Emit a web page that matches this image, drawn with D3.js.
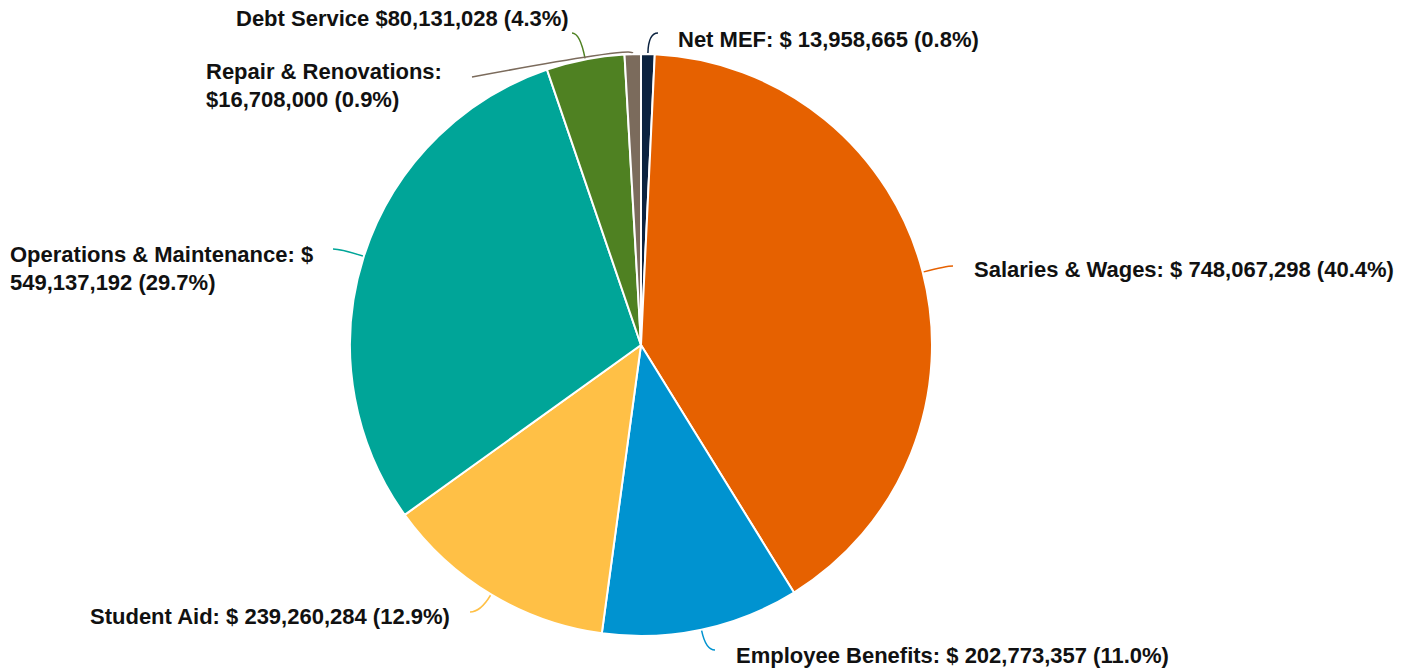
<!DOCTYPE html>
<html>
<head>
<meta charset="utf-8">
<script src="https://cdn.jsdelivr.net/npm/d3@7"></script>
<style>
  html, body { margin: 0; padding: 0; background: #fff; }
  svg { display: block; }
  text { font-family: "Liberation Sans", Arial, sans-serif; font-weight: bold; font-size: 22px; fill: #111; }
</style>
</head>
<body>
<svg id="chart" width="1411" height="669"></svg>
<script>
// Expense categories, clockwise from 12 o'clock
const categories = [
  "Net MEF",
  "Salaries & Wages",
  "Employee Benefits",
  "Student Aid",
  "Operations & Maintenance",
  "Debt Service",
  "Repair & Renovations"
];
const amounts = [13958665, 748067298, 202773357, 239260284, 549137192, 80131028, 16708000];
// text placed before the amount in each label
const labelPrefixes = [
  "Net MEF: $ ",
  "Salaries & Wages: $ ",
  "Employee Benefits: $ ",
  "Student Aid: $ ",
  "Operations & Maintenance: $ ",
  "Debt Service $",
  "Repair & Renovations: $"
];
const sliceColors = ["#0c2340", "#e66100", "#0093d0", "#ffc046", "#00a598", "#4f8122", "#7b6b5c"];

// label placement: text anchor (x, first baseline), leader end, words on first line
const labelLayout = [
  { x: 678, y: 47,  ex: 658, ey: 33,  firstLine: 0 },
  { x: 974, y: 277, ex: 953, ey: 266, firstLine: 0 },
  { x: 736, y: 663, ex: 715, ey: 650, firstLine: 0 },
  { x: 90,  y: 624, ex: 470, ey: 612, firstLine: 0 },
  { x: 10,  y: 262, ex: 333, ey: 249, firstLine: 4 },
  { x: 236, y: 26,  ex: 572, ey: 33,  firstLine: 0 },
  { x: 206, y: 79,  ex: 472, ey: 77,  firstLine: 3 }
];

const cx = 641, cy = 345, radius = 291, lineGap = 28;

const data = categories.map((name, i) => ({
  name, value: amounts[i], prefix: labelPrefixes[i], color: sliceColors[i], layout: labelLayout[i]
}));
const total = d3.sum(amounts);
const fmtNum = d3.format(",");
const fmtPct = d3.format(".1%");

const svg = d3.select("#chart");
const g = svg.append("g").attr("transform", `translate(${cx},${cy})`);

const pie = d3.pie().value(d => d.value).sort(null);
const arcs = pie(data);
const arc = d3.arc().innerRadius(0).outerRadius(radius);

g.selectAll("path.slice")
  .data(arcs)
  .join("path")
  .attr("class", "slice")
  .attr("d", arc)
  .attr("fill", d => d.data.color)
  .attr("stroke", "#fff")
  .attr("stroke-width", 2)
  .attr("stroke-linejoin", "round");

// curved leader lines from each slice's outer edge to its label
const leader = d => {
  const a = (d.startAngle + d.endAngle) / 2;
  const ux = Math.sin(a), uy = -Math.cos(a);
  const sx = cx + ux * (radius + 1), sy = cy + uy * (radius + 1);
  const L = d.data.layout;
  let k = (L.ey - sy) / uy;
  if (!(k > 4)) k = 6;
  const qx = sx + ux * k, qy = sy + uy * k;
  const p = d3.path();
  p.moveTo(sx, sy);
  p.quadraticCurveTo(qx, qy, L.ex, L.ey);
  return p.toString();
};

svg.append("g").selectAll("path.leader")
  .data(arcs)
  .join("path")
  .attr("class", "leader")
  .attr("d", leader)
  .attr("fill", "none")
  .attr("stroke", d => d.data.color)
  .attr("stroke-width", 1.5);

// labels
const labels = svg.append("g").selectAll("text")
  .data(arcs)
  .join("text")
  .attr("x", d => d.data.layout.x)
  .attr("y", d => d.data.layout.y);

labels.each(function(d) {
  const full = d.data.prefix + fmtNum(d.data.value) + " (" + fmtPct(d.data.value / total) + ")";
  const n = d.data.layout.firstLine;
  const words = full.split(" ");
  const lines = n > 0 ? [words.slice(0, n).join(" "), words.slice(n).join(" ")] : [full];
  d3.select(this).selectAll("tspan")
    .data(lines)
    .join("tspan")
    .attr("x", d.data.layout.x)
    .attr("dy", (l, i) => i === 0 ? 0 : lineGap)
    .text(l => l);
});
</script>
</body>
</html>
